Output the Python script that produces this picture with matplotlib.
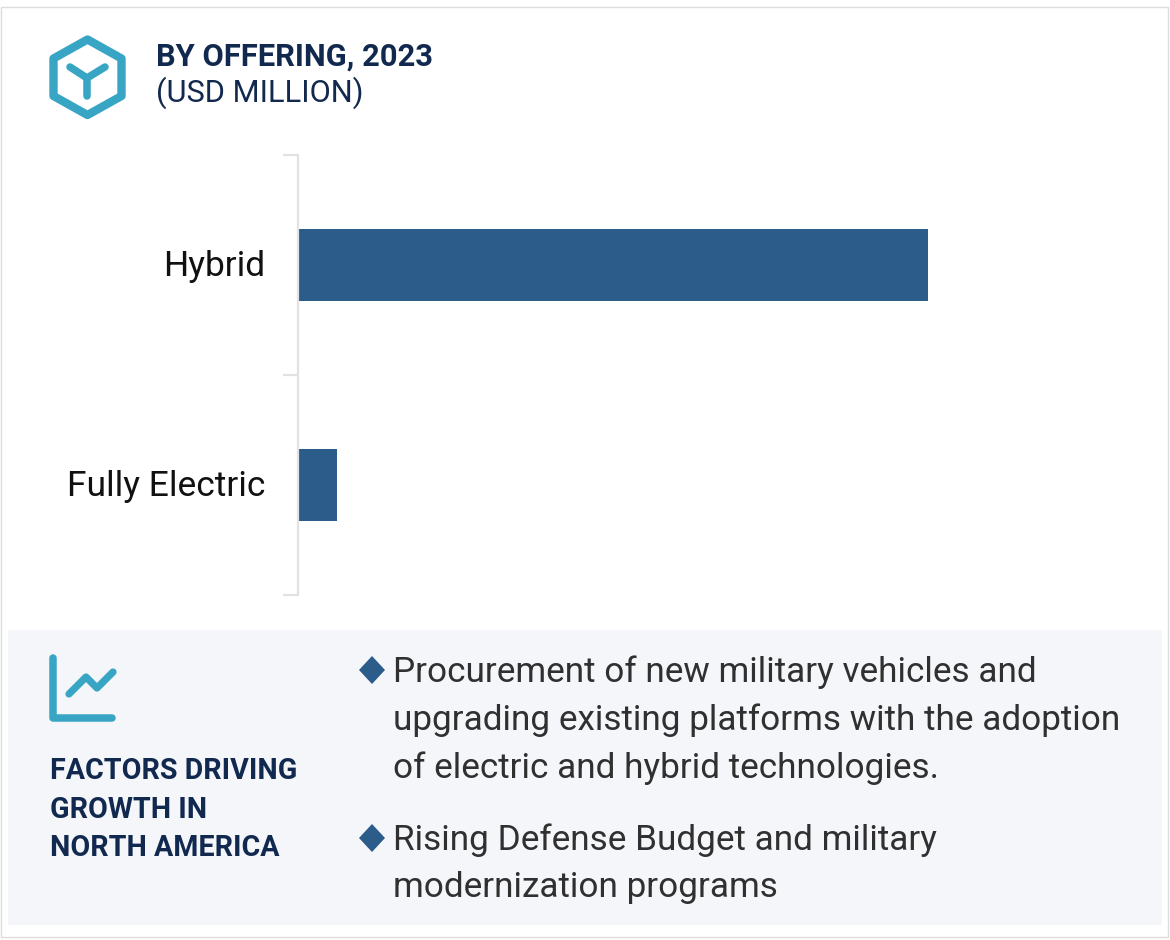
import matplotlib.pyplot as plt
from matplotlib.patches import Rectangle, Polygon
from matplotlib.transforms import ScaledTranslation

plt.rcParams['font.family'] = ['Roboto', 'DejaVu Sans']

categories = ['Hybrid', 'Fully Electric']
values = [630, 39]

title_bold = 'BY OFFERING, 2023'
title_unit = '(USD MILLION)'
factors_title = ['FACTORS DRIVING', 'GROWTH IN', 'NORTH AMERICA']
bullet_lines = [
    ['Procurement of new military vehicles and',
     'upgrading existing platforms with the adoption',
     'of electric and hybrid technologies.'],
    ['Rising Defense Budget and military',
     'modernization programs'],
]

W, H = 1170, 940
BAR = '#2b5c8a'
TEAL = '#38a5c4'
NAVY = '#12294f'
BODY = '#303030'

fig = plt.figure(figsize=(W / 100, H / 100), dpi=100, facecolor='white')

# overlay in pixel coords for the card, panel and icons
bg = fig.add_axes([0, 0, 1, 1])
bg.set_xlim(0, W)
bg.set_ylim(H, 0)
bg.axis('off')

bg.add_patch(Rectangle((1, 7), 1167, 930, fc='white', ec='#dcdcdc', lw=1))
bg.add_patch(Rectangle((8, 630), 1154, 295, fc='#f5f6fa', ec='none'))

# cube icon
hexagon = [(87.5, 39.5), (121.5, 58.5), (121.5, 96), (87.5, 115), (53.5, 96), (53.5, 58.5)]
bg.add_patch(Polygon(hexagon, closed=True, fc='none', ec=TEAL, lw=6, joinstyle='round'))
for xs, ys in [([70, 87, 105], [67, 78, 67]), ([87, 87], [78, 96])]:
    bg.plot(xs, ys, color=TEAL, lw=5.4, solid_capstyle='round', solid_joinstyle='round')

# trend icon
bg.plot([53, 53, 112], [658, 718, 718], color=TEAL, lw=5.4,
        solid_capstyle='round', solid_joinstyle='round')
bg.plot([69, 86, 97, 113], [694, 677, 688, 672], color=TEAL, lw=5.2,
        solid_capstyle='round', solid_joinstyle='round')

bg.text(156, 56.5, title_bold, fontsize=22.2, fontweight='bold', color=NAVY, va='center', ha='left')
bg.text(156, 93, title_unit, fontsize=22.2, color=NAVY, va='center', ha='left')

for i, line in enumerate(factors_title):
    bg.text(49.5, 771 + i * 38.5, line, fontsize=20.6, fontweight='bold', color=NAVY, va='center', ha='left')

# bullets
for lines, top in zip(bullet_lines, [670, 838]):
    bg.add_patch(Polygon([(372, top - 14), (385, top), (372, top + 14), (359, top)], fc=BAR, ec='none'))
    for i, line in enumerate(lines):
        bg.text(393, top + 2 + i * 48, line, fontsize=25.3, color=BODY, va='center', ha='left')

# bar chart
left, right, top, bottom = 298, 1130, 155, 595
ax = fig.add_axes([left / W, 1 - bottom / H, (right - left) / W, (bottom - top) / H])
ax.patch.set_alpha(0)
ax.barh(categories, values, height=0.33, color=BAR)
ax.set_xlim(0, right - left)
ax.set_ylim(1.5, -0.5)
ax.set_xticks([])
ax.set_yticks([-0.5, 0.5, 1.5], minor=False)
ax.set_yticklabels([])
ax.tick_params(axis='y', length=11, width=1.6, color='#e2e2e2')
ax.set_yticks([0, 1], categories, minor=True)
ax.tick_params(axis='y', which='minor', length=0, pad=23.5, labelsize=25.5, labelcolor='#111111')
for label in ax.get_yticklabels(minor=True):
    label.set_transform(label.get_transform() + ScaledTranslation(0, 2 / 100, fig.dpi_scale_trans))
for s in ['top', 'right', 'bottom']:
    ax.spines[s].set_visible(False)
ax.spines['left'].set_color('#e2e2e2')
ax.spines['left'].set_linewidth(1.6)

fig.savefig('out.png', dpi=100)
